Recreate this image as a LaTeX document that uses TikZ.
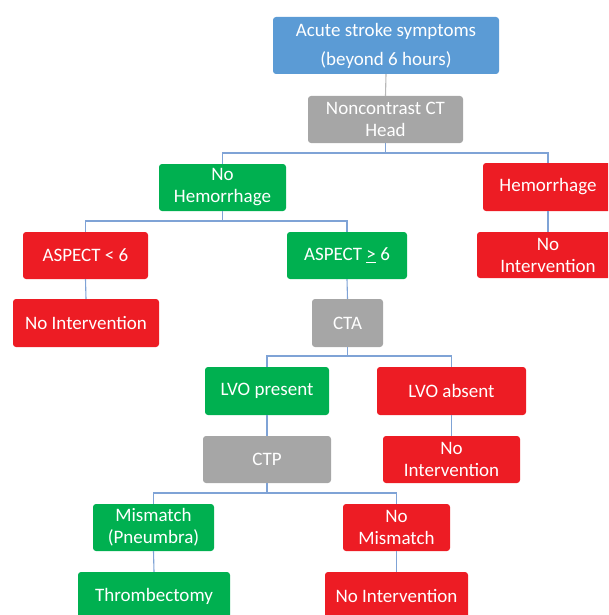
\documentclass[tikz,border=0pt]{standalone}
\usepackage{fontspec}
\setmainfont{Carlito}
\definecolor{cblue}{HTML}{5B9BD5}
\definecolor{cgray}{HTML}{A6A6A6}
\definecolor{cgreen}{HTML}{00B050}
\definecolor{cred}{HTML}{ED1C24}
\definecolor{cline}{HTML}{7FA3D6}
\tikzset{
  box/.style={rectangle, rounded corners=3pt, draw=none, text=white, align=center, inner sep=0pt,
    font=\fontsize{19}{22}\selectfont},
  bluebox/.style={box, fill=cblue},
  graybox/.style={box, fill=cgray},
  greenbox/.style={box, fill=cgreen},
  redbox/.style={box, fill=cred},
  conn/.style={draw=cline, line width=1.1pt},
  conngray/.style={draw=cgray!80, line width=1.1pt}
}
\begin{document}
\begin{tikzpicture}[x=1pt,y=-1pt]
\useasboundingbox (0,0) rectangle (608,615);
\begin{scope}
\clip (0,0) rectangle (608,615);
% nodes: center, width x height
\node[bluebox, minimum width=226pt, minimum height=57pt] (top) at (386,45.5) {Acute stroke symptoms\\[7pt](beyond 6 hours)};
\node[graybox, minimum width=155pt, minimum height=47pt] (ncct) at (385.5,119.5) {Noncontrast CT\\Head};
\node[greenbox, minimum width=127pt, minimum height=47pt] (nohem) at (222.5,187.5) {No\\Hemorrhage};
\node[redbox, minimum width=130pt, minimum height=48pt] (hem) at (548,187) {Hemorrhage};
\node[redbox, minimum width=142pt, minimum height=46pt] (hemni) at (548,255) {No\\Intervention};
\node[redbox, minimum width=125pt, minimum height=47pt] (asplt) at (85.5,255.5) {ASPECT < 6};
\node[greenbox, minimum width=120pt, minimum height=47pt] (aspge) at (347,255.5) {ASPECT \underline{>} 6};
\node[redbox, minimum width=146pt, minimum height=48pt] (nileft) at (86,323) {No Intervention};
\node[graybox, minimum width=71pt, minimum height=48pt] (cta) at (347.5,323) {CTA};
\node[greenbox, minimum width=124pt, minimum height=48pt] (lvop) at (267,391) {LVO present};
\node[redbox, minimum width=149pt, minimum height=48pt] (lvoa) at (451.5,391) {LVO absent};
\node[graybox, minimum width=128pt, minimum height=47pt] (ctp) at (267,459.5) {CTP};
\node[redbox, minimum width=137pt, minimum height=47pt] (lvoani) at (451.5,459.5) {No\\Intervention};
\node[greenbox, minimum width=121pt, minimum height=47pt] (mism) at (153.5,527.5) {Mismatch\\(Pneumbra)};
\node[redbox, minimum width=107pt, minimum height=47pt] (nomism) at (396.5,527.5) {No\\Mismatch};
\node[greenbox, minimum width=152pt, minimum height=48pt] (thromb) at (154,596) {Thrombectomy};
\node[redbox, minimum width=143pt, minimum height=48pt] (nibot) at (396.5,596) {No Intervention};
% bus coordinates
\coordinate (b1) at (385.5,153);
\coordinate (b2) at (222.5,221);
\coordinate (b3) at (347.5,356);
\coordinate (b4) at (267,493);
% connectors
\draw[conngray] (top.south) -- (ncct.north);
\draw[conn] (ncct.south) -- (b1) -| (nohem.north);
\draw[conn] (b1) -| (hem.north);
\draw[conn] (hem.south) -- (hemni.north);
\draw[conn] (nohem.south) -- (b2) -| (asplt.north);
\draw[conn] (b2) -| (aspge.north);
\draw[conn] (asplt.south) -- (nileft.north);
\draw[conn] (aspge.south) -- (cta.north);
\draw[conn] (cta.south) -- (b3) -| (lvop.north);
\draw[conn] (b3) -| (lvoa.north);
\draw[conn] (lvop.south) -- (ctp.north);
\draw[conn] (lvoa.south) -- (lvoani.north);
\draw[conn] (ctp.south) -- (b4) -| (mism.north);
\draw[conn] (b4) -| (nomism.north);
\draw[conn] (mism.south) -- (thromb.north);
\draw[conn] (nomism.south) -- (nibot.north);
\end{scope}
\end{tikzpicture}
\end{document}
